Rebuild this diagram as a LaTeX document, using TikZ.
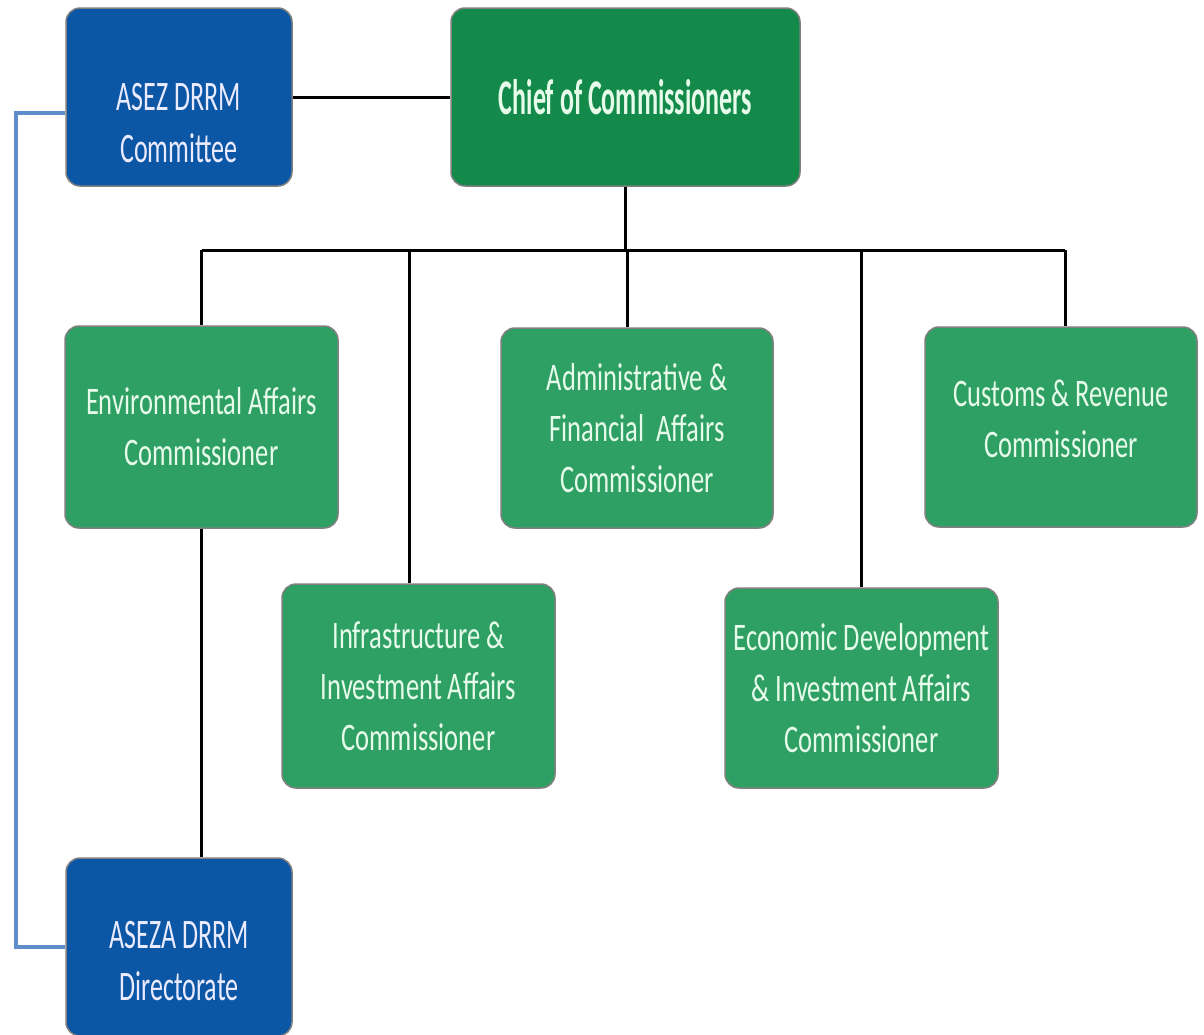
\documentclass[tikz,border=0pt]{standalone}
\usepackage{fontspec}
\setmainfont{Carlito}
\newfontfamily\boxfont[FakeStretch=0.68]{Carlito}
\newfontfamily\bluefont[FakeStretch=0.62]{Carlito}
\newfontfamily\chieffont[FakeStretch=0.52]{Carlito}
\usetikzlibrary{calc}

\definecolor{boxgreen}{HTML}{2FA064}
\definecolor{chiefgreen}{HTML}{138A4A}
\definecolor{boxblue}{HTML}{0C56A6}
\definecolor{loopblue}{HTML}{5F8DCB}
\definecolor{mint}{HTML}{E6FBEA}

\tikzset{
	orgbox/.style={draw=black!50, line width=1.5pt, rounded corners=14pt, inner sep=0pt},
	greenbox/.style={orgbox, fill=boxgreen, text=mint, align=center, font=\boxfont\fontsize{39}{51}\selectfont},
	chiefbox/.style={orgbox, fill=chiefgreen, text=mint, font=\chieffont\bfseries\fontsize{50}{60}\selectfont},
	bluebox/.style={orgbox, fill=boxblue},
	bluetext/.style={text=white!92!blue, align=center, font=\bluefont\fontsize{42}{52}\selectfont},
	link/.style={line width=3pt, black},
	bluelink/.style={line width=4pt, loopblue}
}

\begin{document}
\begin{tikzpicture}[x=1pt, y=-1pt]
			%%%%% START %%%%%
			
			\fill[white] (0, 0) rectangle (1204, 1034);
			\clip (0, 0) rectangle (1204, 1034);
			
			% top row
			\node[bluebox, minimum width=226pt, minimum height=178pt] (committee) at (179, 97) {};
			\node[bluetext] (committeetext) at (179, 123) {ASEZ DRRM\\Committee};
			\node[chiefbox, minimum width=349pt, minimum height=178pt] (chief) at (625.5, 97) {Chief of Commissioners};
			
			% commissioners
			\node[greenbox, minimum width=273pt, minimum height=202pt] (env) at (201.5, 427) {Environmental Affairs\\Commissioner};
			\node[greenbox, minimum width=272pt, minimum height=200pt] (admin) at (637, 428) {Administrative \&\\Financial\ \ Affairs\\Commissioner};
			\node[greenbox, minimum width=272pt, minimum height=200pt] (customs) at (1061, 427) {Customs \& Revenue\\Commissioner\\[-35pt]};
			\node[greenbox, minimum width=273pt, minimum height=204pt] (infra) at (418.5, 686) {Infrastructure \&\\Investment Affairs\\Commissioner};
			\node[greenbox, minimum width=273pt, minimum height=200pt] (econ) at (861.5, 688) {Economic Development\\\& Investment Affairs\\Commissioner};
			
			% bottom
			\node[bluebox, minimum width=226pt, minimum height=178pt] (dir) at (179, 947) {};
			\node[bluetext] (dirtext) at (179, 961) {ASEZA DRRM\\Directorate};
			
			% connectors
			\coordinate (bus) at (0, 250);
			\draw[link] (committee.east) -- (chief.west);
			\draw[link] (chief.south) -- (chief.south |- bus);
			\draw[link] (env.north |- bus) -- ([xshift=4pt]customs.north |- bus);
			\draw[link] (env.north) -- (env.north |- bus);
			\draw[link] ([xshift=-9.5pt]infra.north) -- ([xshift=-9.5pt]infra.north |- bus);
			\draw[link] ([xshift=-10pt]admin.north) -- ([xshift=-10pt]admin.north |- bus);
			\draw[link] (econ.north) -- (econ.north |- bus);
			\draw[link] ([xshift=4pt]customs.north) -- ([xshift=4pt]customs.north |- bus);
			\draw[link] (env.south) -- (env.south |- dir.north);
			
			\coordinate (loop) at (16, 530);
			\draw[bluelink] ([yshift=-16pt]committee.west) -| (loop) |- (dir.west);
			
			%%%%% END %%%%%
\end{tikzpicture}
\end{document}
